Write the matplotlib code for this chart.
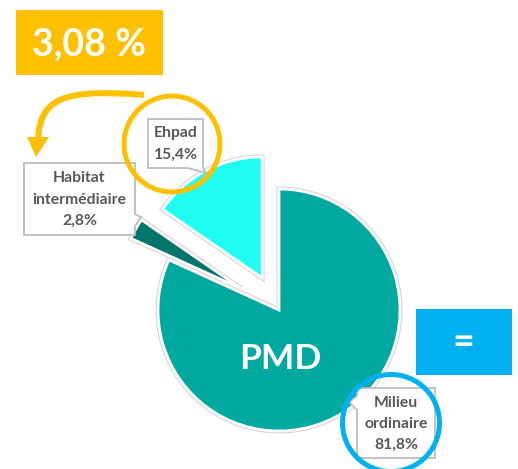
import matplotlib
matplotlib.use("Agg")
import matplotlib.pyplot as plt
from matplotlib.patches import Polygon, Circle, Rectangle, PathPatch
from matplotlib.path import Path

# ---- data ----
categories = ["Milieu\nordinaire", "Habitat\nintermédiaire", "Ehpad"]
values = [81.8, 2.8, 15.4]
colors = ["#00A99F", "#00756B", "#1EFFF2"]
center_title = "PMD"
highlight_value = "3,08 %"
equal_sign = "="

def fmt(v):
    return f"{v:.1f}".replace(".", ",") + "%"

W, H = 518, 469
fig = plt.figure(figsize=(W / 100, H / 100), dpi=100)
ax = fig.add_axes([0, 0, 1, 1])

# pie in pixel-like coordinates (y axis pointing down)
cx, cy, R = 279, 310, 121
explode = [0.0, 0.36 * R, 0.30 * R]   # offsets (fraction of radius)
# outer light-gray outline, then white border on top
ax.pie(values, colors=colors, explode=explode, startangle=-90,
       counterclock=True, radius=R, center=(cx, cy),
       wedgeprops=dict(edgecolor="#D6D6D6", linewidth=3.6))
ax.pie(values, colors=colors, explode=explode, startangle=-90,
       counterclock=True, radius=R, center=(cx, cy),
       wedgeprops=dict(edgecolor="white", linewidth=2.0))
ax.set_xlim(0, W)
ax.set_ylim(H, 0)
ax.set_aspect("equal")
ax.axis("off")

FONT = ["Lato", "DejaVu Sans"]
GRAY = "#595959"
EDGE = "#BDBDBD"

ax.text(cx + 1, 359, center_title, ha="center", va="center", color="white",
        fontsize=25.5, fontweight="bold", family=FONT, zorder=5)

# label callouts
def callout(pts, lines_xy, text_lines):
    ax.add_patch(Polygon(pts, closed=True, facecolor="white", edgecolor=EDGE,
                         linewidth=1.3, zorder=6))
    for (x, y), t in zip(lines_xy, text_lines):
        ax.text(x, y, t, ha="center", va="center", color=GRAY, fontsize=11.3,
                fontweight="bold", family=FONT, zorder=7)

# Ehpad
callout([(148, 119), (203, 119), (203, 168), (206, 173), (188, 168), (148, 168)],
        [(175.5, 133), (175.5, 155)], ["Ehpad", fmt(values[2])])
# Habitat intermédiaire
hab = categories[1].split("\n")
callout([(24, 163), (135, 163), (135, 214), (141, 217), (135, 226), (135, 235), (24, 235)],
        [(79.5, 178), (79.5, 200), (79.5, 221)], hab + [fmt(values[1])])
# Milieu ordinaire
mil = categories[0].split("\n")
callout([(357, 388), (435, 388), (435, 458), (357, 458), (357, 410), (349, 402), (357, 396)],
        [(396, 403), (396, 424), (396, 445)], mil + [fmt(values[0])])

# highlight circles
ax.add_patch(Circle((172, 144), 48, fill=False, edgecolor="#FFC000", linewidth=3.6, zorder=8))
ax.add_patch(Circle((391, 423), 48.5, fill=False, edgecolor="#00B0F0", linewidth=3.6, zorder=8))

# yellow box
ax.add_patch(Rectangle((16, 10), 147, 65, facecolor="#FFC000", edgecolor="none", zorder=4))
ax.text(89.5, 44, highlight_value, ha="center", va="center", color="white",
        fontsize=27, fontweight="bold", family=FONT, zorder=5)

# blue box
ax.add_patch(Rectangle((416, 309), 96, 66, facecolor="#00B0F0", edgecolor="none", zorder=4))
ax.text(463, 343, equal_sign, ha="center", va="center", color="white",
        fontsize=27, fontweight="bold", family=FONT, zorder=5)

# curved arrow
path = Path([(144, 95), (60, 88), (40, 100), (38, 140)],
            [Path.MOVETO, Path.CURVE4, Path.CURVE4, Path.CURVE4])
ax.add_patch(PathPatch(path, facecolor="none", edgecolor="#FFC000", linewidth=4.4,
                       capstyle="butt", zorder=8))
ax.add_patch(Polygon([(27, 137), (49, 137), (36, 157)], closed=True,
                     facecolor="#FFC000", edgecolor="none", zorder=8))

fig.savefig("out.png", dpi=100)
